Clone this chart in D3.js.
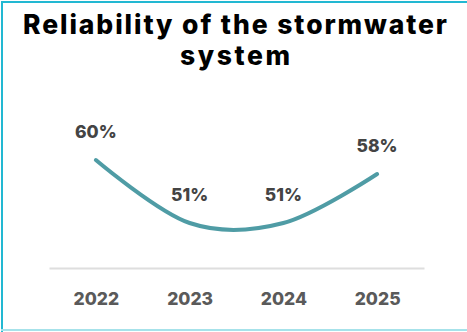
<!DOCTYPE html>
<html><head><meta charset="utf-8">
<script src="https://cdn.jsdelivr.net/npm/d3@7"></script>
<style>body{margin:0;background:#fff}svg{display:block}</style>
</head><body>
<svg id="chart" width="467" height="332"></svg>
<script>
const titleLines = ["Reliability of the stormwater", "system"];
const years = ["2022", "2023", "2024", "2025"];
const values = [60, 51, 51, 58];
const valueLabels = ["60%", "51%", "51%", "58%"];

const svg = d3.select("#chart");
const W = 467, H = 332;

// frame
svg.append("rect").attr("x", 0).attr("y", 0).attr("width", W).attr("height", H).attr("fill", "#fff");
svg.append("rect").attr("x", 1).attr("y", 1).attr("width", W - 1).attr("height", 2).attr("fill", "#22b8d2");
svg.append("rect").attr("x", 1).attr("y", 1).attr("width", 2).attr("height", H - 1).attr("fill", "#22b8d2");
svg.append("rect").attr("x", 1).attr("y", 329).attr("width", W - 1).attr("height", 2).attr("fill", "#a6e2ea");

// title
const titleWidths = [424, 110];
titleLines.forEach((t, i) => {
  svg.append("text").attr("text-anchor", "middle")
    .attr("font-family", "Inter, 'Open Sans', sans-serif").attr("font-weight", 800)
    .attr("font-size", 26.5).attr("fill", "#000")
    .attr("x", 235).attr("y", 34 + i * 30.5)
    .attr("textLength", titleWidths[i]).attr("lengthAdjust", "spacing").text(t);
});

const x = d3.scalePoint().domain(years).range([49, 424]).padding(0.5);
const y = d3.scaleLinear().domain([45, 60]).range([265, 160]);

// baseline axis
const axis = d3.axisBottom(x).tickSize(0).tickPadding(0);
const gAxis = svg.append("g").attr("transform", "translate(0,268)").call(axis);
gAxis.select(".domain").attr("stroke", "#dedede").attr("stroke-width", 2);
gAxis.selectAll(".tick text")
  .attr("dy", null).attr("y", 37)
  .attr("font-family", "Inter, sans-serif").attr("font-weight", 800)
  .attr("font-size", 17.5).attr("fill", "#5a5a5a");

// line
const line = d3.line().x((d, i) => x(years[i])).y(d => y(d)).curve(d3.curveCardinal);
svg.append("path").datum(values).attr("d", line)
  .attr("fill", "none").attr("stroke", "#4f9ca5").attr("stroke-width", 4)
  .attr("stroke-linecap", "round");

// value labels
svg.selectAll(".vl").data(values).enter().append("text")
  .attr("class", "vl").attr("text-anchor", "middle")
  .attr("x", (d, i) => x(years[i])).attr("y", d => y(d) - 22.5)
  .attr("font-family", "Inter, sans-serif").attr("font-weight", 800)
  .attr("font-size", 17.5).attr("fill", "#444")
  .text((d, i) => valueLabels[i]);
</script>
</body></html>
